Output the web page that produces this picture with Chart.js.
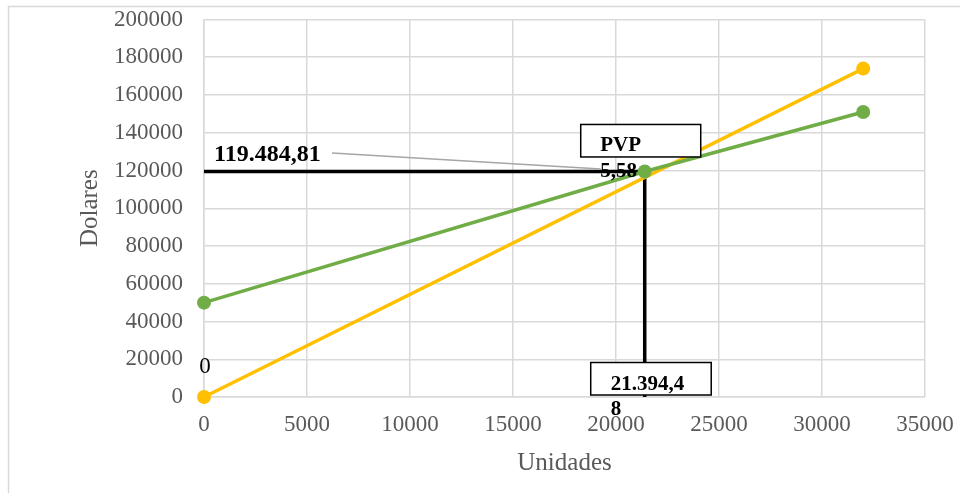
<!DOCTYPE html>
<html>
<head>
<meta charset="utf-8">
<script src="https://cdn.jsdelivr.net/npm/chart.js@4"></script>
<style>
  html, body { margin: 0; padding: 0; background: #ffffff; }
  canvas { display: block; }
</style>
</head>
<body>
<canvas id="chart" width="960" height="493"></canvas>
<script>
// Break-even chart: total cost vs. revenue by units sold
const costUnits = [0, 21394.48, 32000];
const costValues = [50000, 119484.81, 151000];
const revenueUnits = [0, 32000];
const revenueValues = [0, 174000];

// Break-even point
const breakEvenUnits = 21394.48;
const breakEvenDollars = 119484.81;

const breakEvenDollarsLabel = '119.484,81';
const breakEvenUnitsLabel = ['21.394,4', '8'];
const priceLabel = ['PVP', '5,58'];
const originLabel = '0';

const xTickValues = [0, 5000, 10000, 15000, 20000, 25000, 30000, 35000];
const yTickValues = [0, 20000, 40000, 60000, 80000, 100000, 120000, 140000, 160000, 180000, 200000];

const xTitle = 'Unidades';
const yTitle = 'Dolares';

const SERIF = '"Liberation Serif", "Times New Roman", serif';
const GRID = '#d9d9d9';
const TICK = '#595959';

function points(xs, ys) {
  return xs.map((x, i) => ({ x: x, y: ys[i] }));
}

// Keep the plot area fixed: no extra room for label overhang
function clearScalePadding(scale) {
  scale.paddingTop = 0;
  scale.paddingBottom = 0;
  scale.paddingLeft = 0;
  scale.paddingRight = 0;
}

// Frame around the whole chart object
const framePlugin = {
  id: 'frame',
  beforeDraw(chart) {
    const ctx = chart.ctx;
    ctx.save();
    ctx.strokeStyle = GRID;
    ctx.lineWidth = 1.5;
    ctx.beginPath();
    ctx.moveTo(8.5, chart.height);
    ctx.lineTo(8.5, 6.5);
    ctx.lineTo(chart.width, 6.5);
    ctx.stroke();
    ctx.restore();
  }
};

// Text labels, callout boxes and leader line around the break-even point
const labelsPlugin = {
  id: 'breakEvenLabels',
  afterDatasetsDraw(chart) {
    const ctx = chart.ctx;
    const xs = chart.scales.x, ys = chart.scales.y;
    const bx = xs.getPixelForValue(breakEvenUnits);
    const by = ys.getPixelForValue(breakEvenDollars);
    const x0 = xs.getPixelForValue(0);
    const y0 = ys.getPixelForValue(0);

    ctx.save();

    // leader line from the dollar label towards the point
    ctx.strokeStyle = '#a6a6a6';
    ctx.lineWidth = 1.5;
    ctx.beginPath();
    ctx.moveTo(x0 + 128, by - 18.5);
    ctx.lineTo(bx - 44, by - 2.5);
    ctx.stroke();

    // dollar value label
    ctx.fillStyle = '#000000';
    ctx.font = 'bold 24px ' + SERIF;
    ctx.textAlign = 'left';
    ctx.textBaseline = 'middle';
    ctx.fillText(breakEvenDollarsLabel, x0 + 10, by - 16.5);

    // price callout box
    ctx.fillStyle = '#ffffff';
    ctx.strokeStyle = '#000000';
    ctx.lineWidth = 1.5;
    ctx.fillRect(bx - 64, by - 47, 120, 32.5);
    ctx.strokeRect(bx - 64, by - 47, 120, 32.5);
    ctx.fillStyle = '#000000';
    ctx.font = 'bold 21px ' + SERIF;
    ctx.fillText(priceLabel[0], bx - 44.5, by - 26);
    ctx.fillText(priceLabel[1], bx - 44.5, by + 0.5);

    // units callout box
    ctx.fillStyle = '#ffffff';
    ctx.fillRect(bx - 54, y0 - 34.5, 120.5, 32.5);
    ctx.strokeRect(bx - 54, y0 - 34.5, 120.5, 32.5);
    ctx.fillStyle = '#000000';
    ctx.fillText(breakEvenUnitsLabel[0], bx - 34, y0 - 12);
    ctx.fillText(breakEvenUnitsLabel[1], bx - 34, y0 + 13);

    // origin value label
    ctx.font = '23px ' + SERIF;
    ctx.textAlign = 'center';
    ctx.fillText(originLabel, x0 + 1, y0 - 30.5);

    ctx.restore();
  }
};

new Chart(document.getElementById('chart'), {
  type: 'scatter',
  data: {
    datasets: [
      {
        label: 'Costo total',
        data: points(costUnits, costValues),
        showLine: true,
        clip: false,
        borderColor: '#70AD47',
        backgroundColor: '#70AD47',
        borderWidth: 3.5,
        pointRadius: 7,
        pointHoverRadius: 7,
        pointBorderWidth: 0
      },
      {
        label: 'Ingresos',
        data: points(revenueUnits, revenueValues),
        showLine: true,
        clip: false,
        borderColor: '#FFC000',
        backgroundColor: '#FFC000',
        borderWidth: 3.5,
        pointRadius: 7,
        pointHoverRadius: 7,
        pointBorderWidth: 0
      },
      {
        label: 'Nivel de ventas',
        data: [{ x: 0, y: breakEvenDollars }, { x: breakEvenUnits, y: breakEvenDollars }],
        showLine: true,
        clip: false,
        borderColor: '#000000',
        borderWidth: 3.5,
        pointRadius: 0
      },
      {
        label: 'Unidades de equilibrio',
        data: [{ x: breakEvenUnits, y: breakEvenDollars }, { x: breakEvenUnits, y: 0 }],
        showLine: true,
        clip: false,
        borderColor: '#000000',
        borderWidth: 3.5,
        pointRadius: 0
      }
    ]
  },
  options: {
    responsive: false,
    animation: false,
    events: [],
    layout: { autoPadding: false, padding: { top: 19.5, right: 35, left: 0, bottom: 0 } },
    plugins: {
      legend: { display: false },
      tooltip: { enabled: false }
    },
    scales: {
      x: {
        type: 'linear',
        min: 0,
        max: 35000,
        afterBuildTicks(scale) { scale.ticks = xTickValues.map(v => ({ value: v })); },
        afterFit(scale) { scale.height = 96; clearScalePadding(scale); },
        grid: { color: GRID, lineWidth: 1.5, drawTicks: false },
        border: { color: GRID, width: 1.5 },
        ticks: {
          padding: 14,
          color: TICK,
          font: { family: SERIF, size: 23 },
          callback: v => String(v),
          maxRotation: 0
        },
        title: {
          display: true,
          text: xTitle,
          color: TICK,
          font: { family: SERIF, size: 25 },
          padding: { top: 0, bottom: 15 }
        }
      },
      y: {
        type: 'linear',
        min: 0,
        max: 200000,
        afterBuildTicks(scale) { scale.ticks = yTickValues.map(v => ({ value: v })); },
        afterFit(scale) { scale.width = 204; clearScalePadding(scale); },
        grid: { color: GRID, lineWidth: 1.5, drawTicks: false },
        border: { color: GRID, width: 1.5 },
        ticks: {
          padding: 21,
          color: TICK,
          font: { family: SERIF, size: 23 },
          callback: v => String(v)
        },
        title: {
          display: true,
          text: yTitle,
          color: TICK,
          font: { family: SERIF, size: 25 },
          padding: { top: 75, bottom: 0 }
        }
      }
    }
  },
  plugins: [framePlugin, labelsPlugin]
});
</script>
</body>
</html>
